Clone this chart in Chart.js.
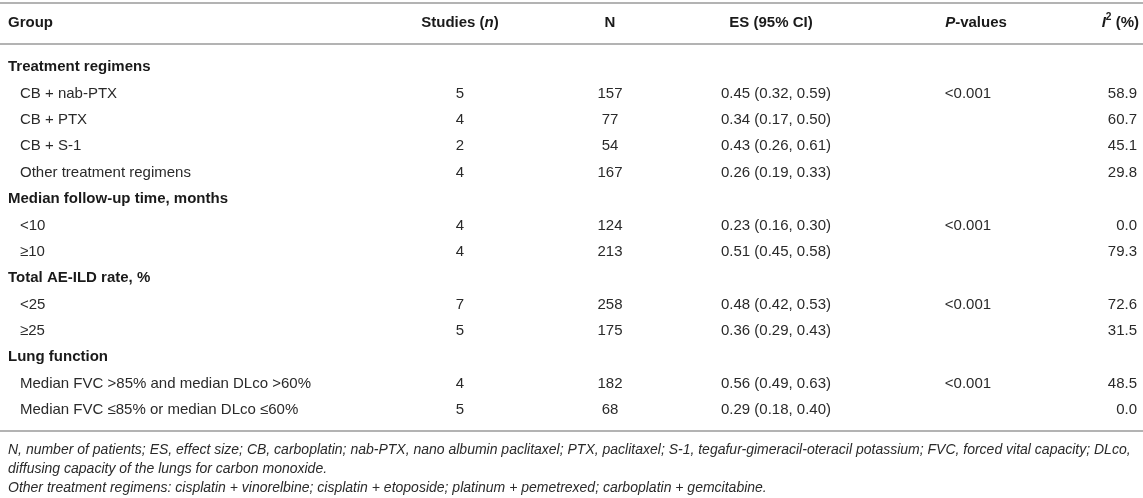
<!DOCTYPE html>
<html>
<head>
<meta charset="utf-8">
<script src="https://cdn.jsdelivr.net/npm/chart.js@4.4.1/dist/chart.umd.min.js"></script>
<style>
	html, body { margin: 0; padding: 0; background: #fff; }
	#wrap { width: 1143px; height: 498px; }
</style>
</head>
<body>
<div id="wrap"><canvas id="tbl"></canvas></div>
<script>
// table data
const sections = ['Treatment regimens', 'Median follow-up time, months', 'Total AE-ILD rate, %', 'Lung function'];
const sectionSizes = [4, 2, 2, 2];
const subgroups = [
	'CB + nab-PTX', 'CB + PTX', 'CB + S-1', 'Other treatment regimens',
	'<10', '≥10',
	'<25', '≥25',
	'Median FVC >85% and median DLco >60%', 'Median FVC ≤85% or median DLco ≤60%'
];
const studies = [5, 4, 2, 4, 4, 4, 7, 5, 4, 5];
const patients = [157, 77, 54, 167, 124, 213, 258, 175, 182, 68];
const es = [0.45, 0.34, 0.43, 0.26, 0.23, 0.51, 0.48, 0.36, 0.56, 0.29];
const esLow = [0.32, 0.17, 0.26, 0.19, 0.16, 0.45, 0.42, 0.29, 0.49, 0.18];
const esHigh = [0.59, 0.50, 0.61, 0.33, 0.30, 0.58, 0.53, 0.43, 0.63, 0.40];
const pValues = ['<0.001', '', '', '', '<0.001', '', '<0.001', '', '<0.001', ''];
const i2 = [58.9, 60.7, 45.1, 29.8, 0.0, 79.3, 72.6, 31.5, 48.5, 0.0];
const footnotes = [
	'N, number of patients; ES, effect size; CB, carboplatin; nab-PTX, nano albumin paclitaxel; PTX, paclitaxel; S-1, tegafur-gimeracil-oteracil potassium; FVC, forced vital capacity; DLco,',
	'diffusing capacity of the lungs for carbon monoxide.',
	'Other treatment regimens: cisplatin + vinorelbine; cisplatin + etoposide; platinum + pemetrexed; carboplatin + gemcitabine.'
];

// layout (x in page px, y in row units)
const FONT = '"Liberation Sans", Arial, Helvetica, sans-serif';
const SIZE = 15;
const NOTE_SIZE = 14;
const INK = '#2a2a2a';
const HEAD_INK = '#1a1a1a';
const RULE = '#b3b3b3';
const cols = { group: 8, sub: 20, studies: 460, n: 610, es: 776, p: 968, i2: 1137 };
const rowsY = { top: -2.42, header: -1.67, headRule: -0.87, bottomRule: 13.79, notes: [14.52, 15.24, 15.96] };

// build rows
let rowLabels = [], rowKinds = [];
let k = 0;
sections.forEach((s, si) => {
	rowLabels.push(s); rowKinds.push('section');
	for (let j = 0; j < sectionSizes[si]; j++) {
		rowLabels.push(subgroups[k]); rowKinds.push(k);
		k++;
	}
});

function column(xPos, align, textOf){
	let pts = [], texts = [];
	rowKinds.forEach((kind, r) => {
		if (kind === 'section') return;
		let t = textOf(kind);
		if (t === '') return;
		pts.push({x: xPos, y: r});
		texts.push(t);
	});
	return { data: pts, texts: texts, align: align, pointRadius: 0, pointHoverRadius: 0 };
}

let sectionPts = [], sectionTexts = [], subPts = [], subTexts = [];
rowKinds.forEach((kind, r) => {
	if (kind === 'section') { sectionPts.push({x: cols.group, y: r}); sectionTexts.push(rowLabels[r]); }
	else { subPts.push({x: cols.sub, y: r}); subTexts.push(rowLabels[r]); }
});

const datasets = [
	{ data: sectionPts, texts: sectionTexts, align: 'left', bold: true, pointRadius: 0, pointHoverRadius: 0 },
	{ data: subPts, texts: subTexts, align: 'left', pointRadius: 0, pointHoverRadius: 0 },
	column(cols.studies, 'center', i => String(studies[i])),
	column(cols.n, 'center', i => String(patients[i])),
	column(cols.es, 'center', i => es[i].toFixed(2) + ' (' + esLow[i].toFixed(2) + ', ' + esHigh[i].toFixed(2) + ')'),
	column(cols.p, 'center', i => pValues[i]),
	column(cols.i2, 'right', i => i2[i].toFixed(1))
];

const headers = [
	{ x: cols.group, align: 'left', segs: [{t: 'Group'}] },
	{ x: cols.studies, align: 'center', segs: [{t: 'Studies ('}, {t: 'n', it: true}, {t: ')'}] },
	{ x: cols.n, align: 'center', segs: [{t: 'N'}] },
	{ x: cols.es - 5, align: 'center', segs: [{t: 'ES (95% CI)'}] },
	{ x: cols.p + 8, align: 'center', segs: [{t: 'P', it: true}, {t: '-values'}] },
	{ x: cols.i2 + 2, align: 'right', segs: [{t: 'I', it: true}, {t: '2', sup: true}, {t: ' (%)'}] }
];

function fontFor(s, size, bold){
	let sz = s.sup ? size * 0.68 : size;
	return (s.it ? 'italic ' : '') + (bold ? 'bold ' : '') + sz + 'px ' + FONT;
}

function drawRich(ctx, segs, x, y, align, size, bold){
	let total = 0;
	segs.forEach(s => { ctx.font = fontFor(s, size, bold); s.w = ctx.measureText(s.t).width; total += s.w; });
	let cx = align === 'center' ? x - total / 2 : (align === 'right' ? x - total : x);
	segs.forEach(s => {
		ctx.font = fontFor(s, size, bold);
		ctx.fillText(s.t, cx, s.sup ? y - size * 0.38 : y);
		cx += s.w;
	});
}

const tablePlugin = {
	id: 'tablePlugin',
	afterDatasetsDraw(chart){
		const ctx = chart.ctx;
		const xs = chart.scales.x, ys = chart.scales.y;
		ctx.save();
		ctx.textBaseline = 'middle';

		// rules
		ctx.strokeStyle = RULE;
		ctx.lineWidth = 2;
		[rowsY.top, rowsY.headRule, rowsY.bottomRule].forEach(v => {
			let y = Math.round(ys.getPixelForValue(v));
			ctx.beginPath();
			ctx.moveTo(xs.left, y);
			ctx.lineTo(xs.right, y);
			ctx.stroke();
		});

		// header
		ctx.fillStyle = HEAD_INK;
		let hy = ys.getPixelForValue(rowsY.header);
		headers.forEach(h => {
			ctx.textAlign = 'left';
			drawRich(ctx, h.segs, xs.getPixelForValue(h.x), hy, h.align, SIZE, true);
		});

		// cells
		chart.data.datasets.forEach((ds, di) => {
			const meta = chart.getDatasetMeta(di);
			ctx.fillStyle = ds.bold ? HEAD_INK : INK;
			ctx.font = (ds.bold ? 'bold ' : '') + SIZE + 'px ' + FONT;
			ctx.textAlign = ds.align;
			meta.data.forEach((pt, j) => {
				ctx.fillText(ds.texts[j], pt.x, pt.y);
			});
		});

		// footnotes
		ctx.fillStyle = INK;
		ctx.font = 'italic ' + NOTE_SIZE + 'px ' + FONT;
		ctx.textAlign = 'left';
		footnotes.forEach((t, i) => {
			ctx.fillText(t, xs.getPixelForValue(cols.group), ys.getPixelForValue(rowsY.notes[i]));
		});
		ctx.restore();
	}
};

new Chart(document.getElementById('tbl'), {
	type: 'scatter',
	data: { datasets: datasets },
	options: {
		responsive: true,
		maintainAspectRatio: false,
		animation: false,
		events: [],
		layout: { padding: 0 },
		plugins: { legend: { display: false }, tooltip: { enabled: false } },
		scales: {
			x: { type: 'linear', min: 0, max: 1143, display: false },
			y: { type: 'linear', reverse: true, min: -2.54, max: 16.33, display: false }
		}
	},
	plugins: [tablePlugin]
});
</script>
</body>
</html>
